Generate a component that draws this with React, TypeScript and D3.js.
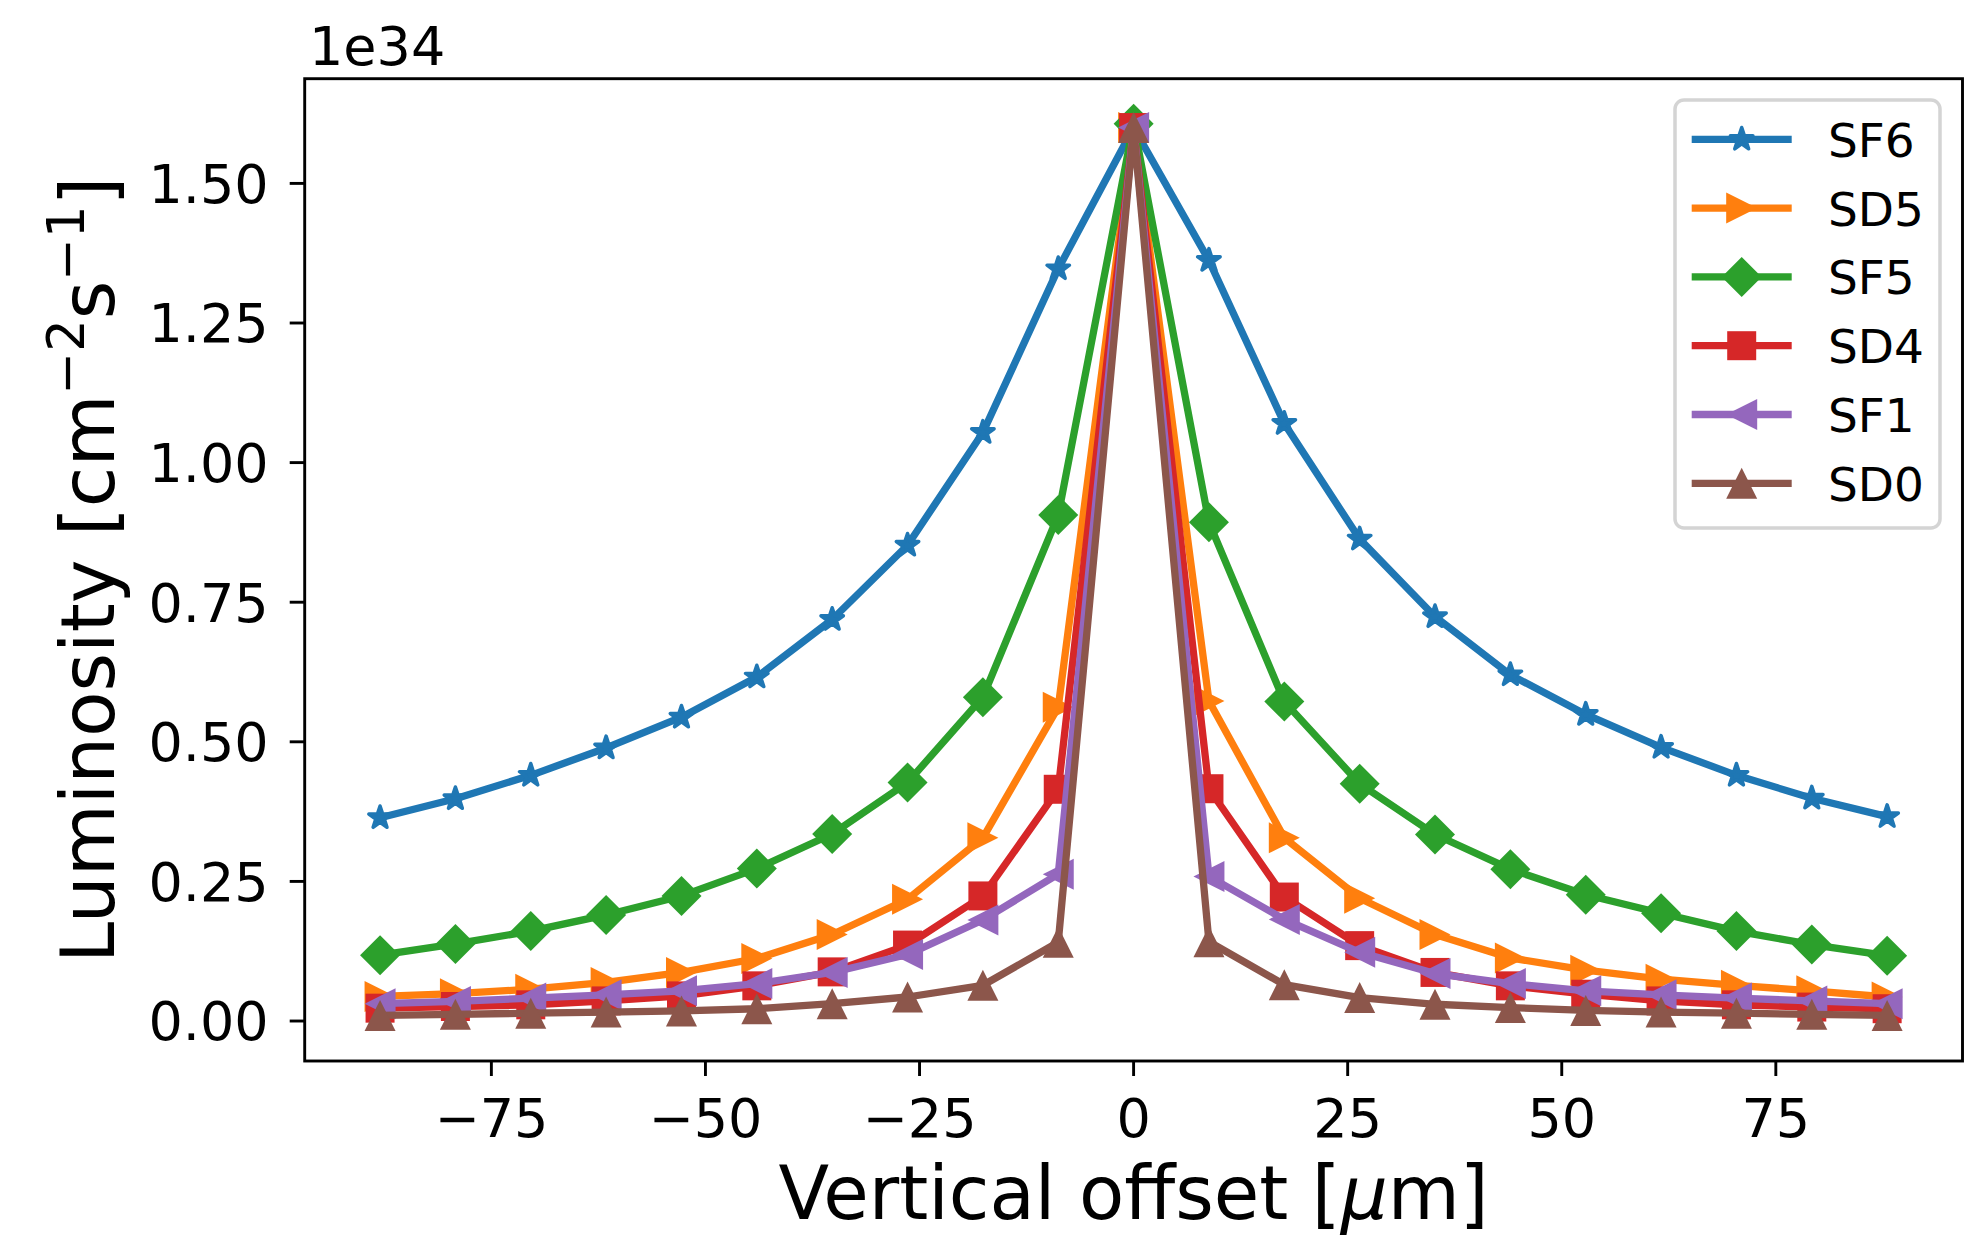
import * as d3 from 'd3';

// vertical offset in um
const offsets = [-88, -79.2, -70.4, -61.6, -52.8, -44, -35.2, -26.4, -17.6, -8.8, 0, 8.8, 17.6, 26.4, 35.2, 44, 52.8, 61.6, 70.4, 79.2, 88];

// luminosity in units of 1e34 cm^-2 s^-1
const sf6 = [0.364, 0.398, 0.44, 0.489, 0.544, 0.616, 0.719, 0.852, 1.054, 1.347, 1.6, 1.362, 1.07, 0.863, 0.724, 0.62, 0.549, 0.49, 0.44, 0.399, 0.366];
const sd5 = [0.044, 0.049, 0.057, 0.069, 0.087, 0.112, 0.155, 0.218, 0.328, 0.562, 1.6, 0.573, 0.328, 0.22, 0.155, 0.113, 0.091, 0.075, 0.064, 0.054, 0.043];
const sf5 = [0.118, 0.138, 0.161, 0.19, 0.224, 0.273, 0.335, 0.427, 0.58, 0.906, 1.607, 0.893, 0.572, 0.425, 0.334, 0.272, 0.226, 0.193, 0.161, 0.137, 0.117];
const sd4 = [0.023, 0.026, 0.029, 0.036, 0.045, 0.063, 0.088, 0.136, 0.224, 0.415, 1.6, 0.416, 0.222, 0.135, 0.087, 0.063, 0.048, 0.036, 0.029, 0.025, 0.022];
const sf1 = [0.031, 0.035, 0.041, 0.047, 0.054, 0.067, 0.087, 0.119, 0.181, 0.263, 1.6, 0.259, 0.182, 0.123, 0.085, 0.067, 0.054, 0.047, 0.041, 0.036, 0.031];
const sd0 = [0.01, 0.012, 0.014, 0.016, 0.018, 0.022, 0.031, 0.043, 0.064, 0.141, 1.6, 0.142, 0.065, 0.042, 0.03, 0.024, 0.019, 0.016, 0.014, 0.012, 0.01];

const seriesNames = ['SF6', 'SD5', 'SF5', 'SD4', 'SF1', 'SD0'];
const seriesValues = [sf6, sd5, sf5, sd4, sf1, sd0];
const seriesColors = ['#1f77b4', '#ff7f0e', '#2ca02c', '#d62728', '#9467bd', '#8c564b'];
const seriesMarkers = ['star', 'right', 'diamond', 'square', 'left', 'up'];

const xTicks = [-75, -50, -25, 0, 25, 50, 75];
const yTicks = [0, 0.25, 0.5, 0.75, 1.0, 1.25, 1.5];

const W = 1968;
const H = 1237;
const margin = { left: 304.7, right: 1962.5, top: 78.7, bottom: 1061 };
const font = '"DejaVu Sans", sans-serif';

function markerPath(kind: string): string {
  const r = 15.5;
  switch (kind) {
    case 'star': {
      const R = 11.8;
      const ri = R * 0.381966;
      const pts: string[] = [];
      for (let i = 0; i < 10; i++) {
        const a = -Math.PI / 2 + (i * Math.PI) / 5;
        const rr = i % 2 === 0 ? R : ri;
        pts.push(`${(rr * Math.cos(a)).toFixed(2)},${(rr * Math.sin(a)).toFixed(2)}`);
      }
      return 'M' + pts.join('L') + 'Z';
    }
    case 'right':
      return `M${r},0L${-r},${-r}L${-r},${r}Z`;
    case 'left':
      return `M${-r},0L${r},${-r}L${r},${r}Z`;
    case 'up':
      return `M0,${-r}L${-r},${r}L${r},${r}Z`;
    case 'square':
      return `M-14.5,-14.5H14.5V14.5H-14.5Z`;
    case 'diamond':
      return `M0,-20L20,0L0,20L-20,0Z`;
    default:
      return '';
  }
}

function fmtTick(v: number, digits: number): string {
  const s = Math.abs(v).toFixed(digits);
  return v < 0 ? '\u2212' + s : s;
}

export default function App() {
  const x = d3.scaleLinear().domain([-96.8, 96.8]).range([margin.left, margin.right]);
  const y = d3.scaleLinear().domain([-0.0716, 1.6875]).range([margin.bottom, margin.top]);

  const line = d3
    .line<number>()
    .x((_, i) => x(offsets[i]))
    .y((d) => y(d));

  const legendX = 1675;
  const legendY = 100;
  const rowGap = 68.8;

  return (
    <svg
      width={W}
      height={H}
      style={{ position: 'absolute', left: 0, top: 0, background: '#fff' }}
      fontFamily={font}
    >
      <rect x={0} y={0} width={W} height={H} fill="#fff" />

      {/* series: line then markers, in plotting order */}
      {seriesValues.map((vals, si) => (
        <g key={seriesNames[si]}>
          <path d={line(vals) || ''} fill="none" stroke={seriesColors[si]} strokeWidth={7.3} strokeLinejoin="round" />
          {vals.map((v, i) => (
            <path
              key={i}
              d={markerPath(seriesMarkers[si])}
              transform={`translate(${x(offsets[i])},${y(v)})`}
              fill={seriesColors[si]}
              stroke={seriesMarkers[si] === 'star' ? seriesColors[si] : 'none'}
              strokeWidth={3.5}
              strokeLinejoin="round"
            />
          ))}
        </g>
      ))}

      {/* axes frame */}
      <rect
        x={margin.left}
        y={margin.top}
        width={margin.right - margin.left}
        height={margin.bottom - margin.top}
        fill="none"
        stroke="#000"
        strokeWidth={2.9}
      />

      {/* x ticks */}
      {xTicks.map((t) => (
        <g key={t} transform={`translate(${x(t)},${margin.bottom})`}>
          <line y1={0} y2={15} stroke="#000" strokeWidth={2.9} />
          <text y={76} textAnchor="middle" fontSize={54} fill="#000">
            {fmtTick(t, 0)}
          </text>
        </g>
      ))}

      {/* y ticks */}
      {yTicks.map((t) => (
        <g key={t} transform={`translate(${margin.left},${y(t)})`}>
          <line x1={0} x2={-15} stroke="#000" strokeWidth={2.9} />
          <text x={-36} dy="0.36em" textAnchor="end" fontSize={54} fill="#000">
            {fmtTick(t, 2)}
          </text>
        </g>
      ))}

      {/* offset text */}
      <text x={309} y={65} fontSize={54} fill="#000">
        1e34
      </text>

      {/* axis labels */}
      <text x={(margin.left + margin.right) / 2} y={1219} textAnchor="middle" fontSize={74} fill="#000">
        Vertical offset [<tspan fontStyle="italic">μ</tspan>m]
      </text>
      <text
        transform={`translate(114,${(margin.top + margin.bottom) / 2}) rotate(-90)`}
        textAnchor="middle"
        fontSize={74}
        fill="#000"
      >
        Luminosity [cm
        <tspan fontSize={51} dy={-30}>−2</tspan>
        <tspan dy={30}>s</tspan>
        <tspan fontSize={51} dy={-30}>−1</tspan>
        <tspan dy={30}>]</tspan>
      </text>

      {/* legend */}
      <rect
        x={legendX}
        y={legendY}
        width={265}
        height={428}
        rx={9}
        fill="#fff"
        fillOpacity={0.8}
        stroke="#d4d4d4"
        strokeWidth={3.5}
      />
      {seriesNames.map((name, si) => {
        const cy = 139.3 + si * rowGap;
        return (
          <g key={name}>
            <line x1={1691.7} x2={1791.7} y1={cy} y2={cy} stroke={seriesColors[si]} strokeWidth={7.3} />
            <path
              d={markerPath(seriesMarkers[si])}
              transform={`translate(1741.7,${cy})`}
              fill={seriesColors[si]}
              stroke={seriesMarkers[si] === 'star' ? seriesColors[si] : 'none'}
              strokeWidth={3.5}
              strokeLinejoin="round"
            />
            <text x={1828} y={cy + 17.5} fontSize={47} fill="#000">
              {name}
            </text>
          </g>
        );
      })}
    </svg>
  );
}
